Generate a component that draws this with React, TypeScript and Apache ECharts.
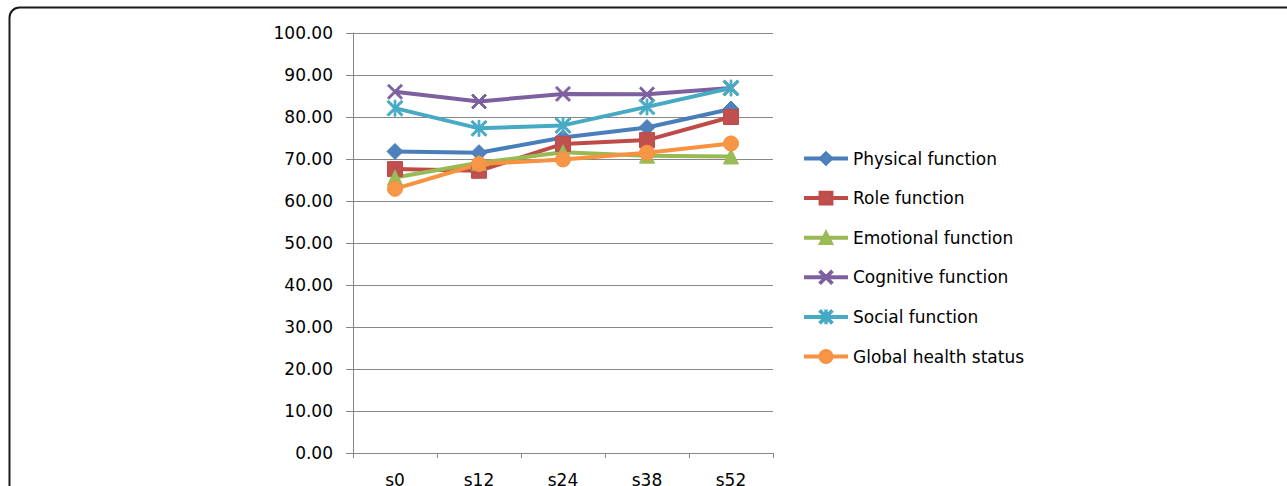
import React, { useEffect, useRef } from "react";
import * as echarts from "echarts";

// Assessment time points
const categories = ["s0", "s12", "s24", "s38", "s52"];

// Mean scores per domain
const physical = [71.8, 71.5, 75.1, 77.5, 81.9];
const role = [67.6, 67.2, 73.6, 74.5, 80.0];
const emotional = [65.6, 69.1, 71.6, 70.8, 70.6];
const cognitive = [86.0, 83.7, 85.5, 85.4, 86.9];
const social = [82.1, 77.3, 78.0, 82.4, 86.9];
const globalHealth = [62.9, 68.8, 69.9, 71.5, 73.7];

const yTicks = [0, 10, 20, 30, 40, 50, 60, 70, 80, 90, 100];

// Marker outlines
const crossPath =
  "path://M0,1 L1,0 L5,4 L9,0 L10,1 L6,5 L10,9 L9,10 L5,6 L1,10 L0,9 L4,5 Z";
const starPath =
  "path://M0,1 L1,0 L5,4 L9,0 L10,1 L6,5 L10,9 L9,10 L5,6 L1,10 L0,9 L4,5 Z M4.45,0 L5.55,0 L5.55,10 L4.45,10 Z";

const FONT = "DejaVu Sans";

type Def = {
  name: string;
  data: number[];
  line: string;
  fill: string;
  symbol: string;
  size: number;
};

const defs: Def[] = [
  { name: "Physical function", data: physical, line: "#4A7EBB", fill: "#4F81BD", symbol: "diamond", size: 16 },
  { name: "Role function", data: role, line: "#BE4B48", fill: "#C0504D", symbol: "rect", size: 15 },
  { name: "Emotional function", data: emotional, line: "#98B954", fill: "#9BBB59", symbol: "triangle", size: 15 },
  { name: "Cognitive function", data: cognitive, line: "#7D60A0", fill: "#7D60A0", symbol: crossPath, size: 15 },
  { name: "Social function", data: social, line: "#46AAC5", fill: "#4BACC6", symbol: starPath, size: 16 },
  { name: "Global health status", data: globalHealth, line: "#F69240", fill: "#F79646", symbol: "circle", size: 15 },
];

export default function App() {
  const ref = useRef<HTMLDivElement>(null);

  useEffect(() => {
    if (!ref.current) return;
    const chart = echarts.init(ref.current, undefined, { renderer: "svg" });
    chart.setOption({
      animation: false,
      backgroundColor: "#ffffff",
      graphic: [
        {
          type: "rect",
          shape: { x: 9.5, y: 7.5, width: 1300, height: 560, r: 10 },
          style: { fill: "none", stroke: "#1a1a1a", lineWidth: 2 },
          silent: true,
        },
      ],
      grid: {
        left: 353,
        top: 33,
        width: 420,
        height: 420,
        containLabel: false,
        outerBoundsMode: "none",
      },
      legend: {
        orient: "vertical",
        left: 797,
        top: 145,
        itemWidth: 44,
        itemHeight: 16,
        itemGap: 22.6,
        lineStyle: { width: 4 },
        textStyle: { fontFamily: FONT, fontSize: 17, color: "#000", lineHeight: 16 },
        data: defs.map((d) => d.name),
      },
      xAxis: {
        type: "category",
        data: categories,
        boundaryGap: true,
        axisLine: { lineStyle: { color: "#868686", width: 1 } },
        axisTick: { show: true, length: 5, alignWithLabel: false, lineStyle: { color: "#868686" } },
        axisLabel: { fontFamily: FONT, fontSize: 17, color: "#000", margin: 18 },
        splitLine: { show: false },
      },
      yAxis: {
        type: "value",
        min: 0,
        max: 100,
        interval: 10,
        axisLine: { show: true, lineStyle: { color: "#868686", width: 1 } },
        axisTick: { show: true, length: 7, lineStyle: { color: "#868686" } },
        axisLabel: {
          fontFamily: FONT,
          fontSize: 17,
          color: "#000",
          margin: 20,
          formatter: (v: number) => (yTicks.includes(v) ? v.toFixed(2) : ""),
        },
        splitLine: { show: true, lineStyle: { color: "#868686", width: 1 } },
      },
      series: defs.map((d) => ({
        name: d.name,
        type: "line",
        data: d.data,
        symbol: d.symbol,
        symbolSize: d.size,
        showSymbol: true,
        lineStyle: { color: d.line, width: 4 },
        itemStyle: { color: d.fill, borderColor: d.line, borderWidth: 1, opacity: 1 },
        emphasis: { disabled: true },
      })),
    });
    return () => chart.dispose();
  }, []);

  return (
    <div
      ref={ref}
      style={{ position: "absolute", left: 0, top: 0, width: 1287, height: 486 }}
    />
  );
}
